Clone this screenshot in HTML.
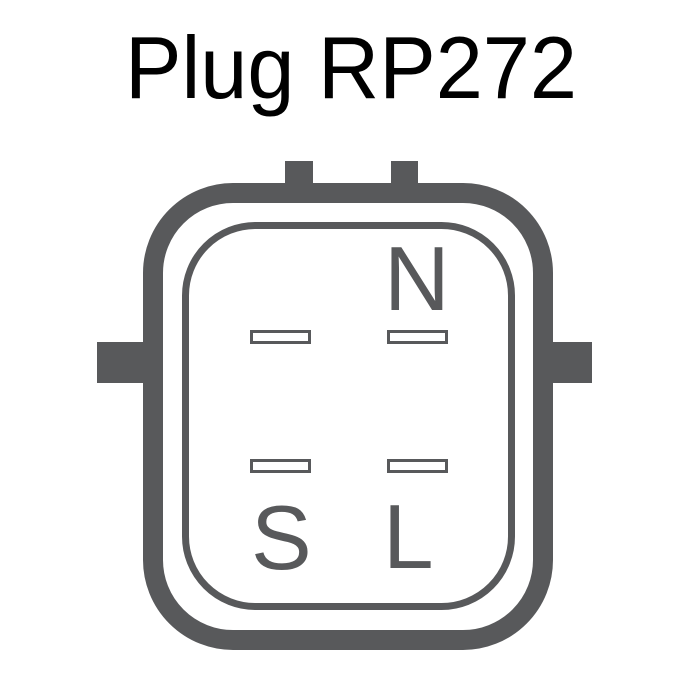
<!DOCTYPE html>
<html><head><style>html,body{margin:0;padding:0;background:#fff;width:700px;height:700px;overflow:hidden}</style></head>
<body>
<svg width="700" height="700" viewBox="0 0 700 700" xmlns="http://www.w3.org/2000/svg">
<rect width="700" height="700" fill="#fff"/>
<text x="125" y="98" font-family="Liberation Sans, sans-serif" font-size="88" fill="#000" textLength="452" lengthAdjust="spacingAndGlyphs">Plug RP272</text>
<g fill="#58595b">
<rect x="285" y="161" width="28" height="26"/>
<rect x="391" y="161" width="27" height="26"/>
<rect x="97" y="342" width="50" height="41"/>
<rect x="549" y="342" width="43" height="41"/>
</g>
<rect x="153" y="193" width="390" height="447" rx="80" ry="80" fill="none" stroke="#58595b" stroke-width="20"/>
<rect x="185.5" y="225.5" width="326" height="381" rx="70" ry="70" fill="none" stroke="#58595b" stroke-width="7"/>
<g fill="none" stroke="#58595b" stroke-width="3">
<rect x="251.5" y="331.5" width="58" height="11"/>
<rect x="388.5" y="331.5" width="58" height="11"/>
<rect x="251.5" y="460.5" width="58" height="11"/>
<rect x="388.5" y="460.5" width="58" height="11"/>
</g>
<g font-family="Liberation Sans, sans-serif" font-size="91" fill="#58595b">
<text x="384" y="310">N</text>
<text x="251" y="569">S</text>
<text x="383" y="568">L</text>
</g>
</svg>
</body></html>
